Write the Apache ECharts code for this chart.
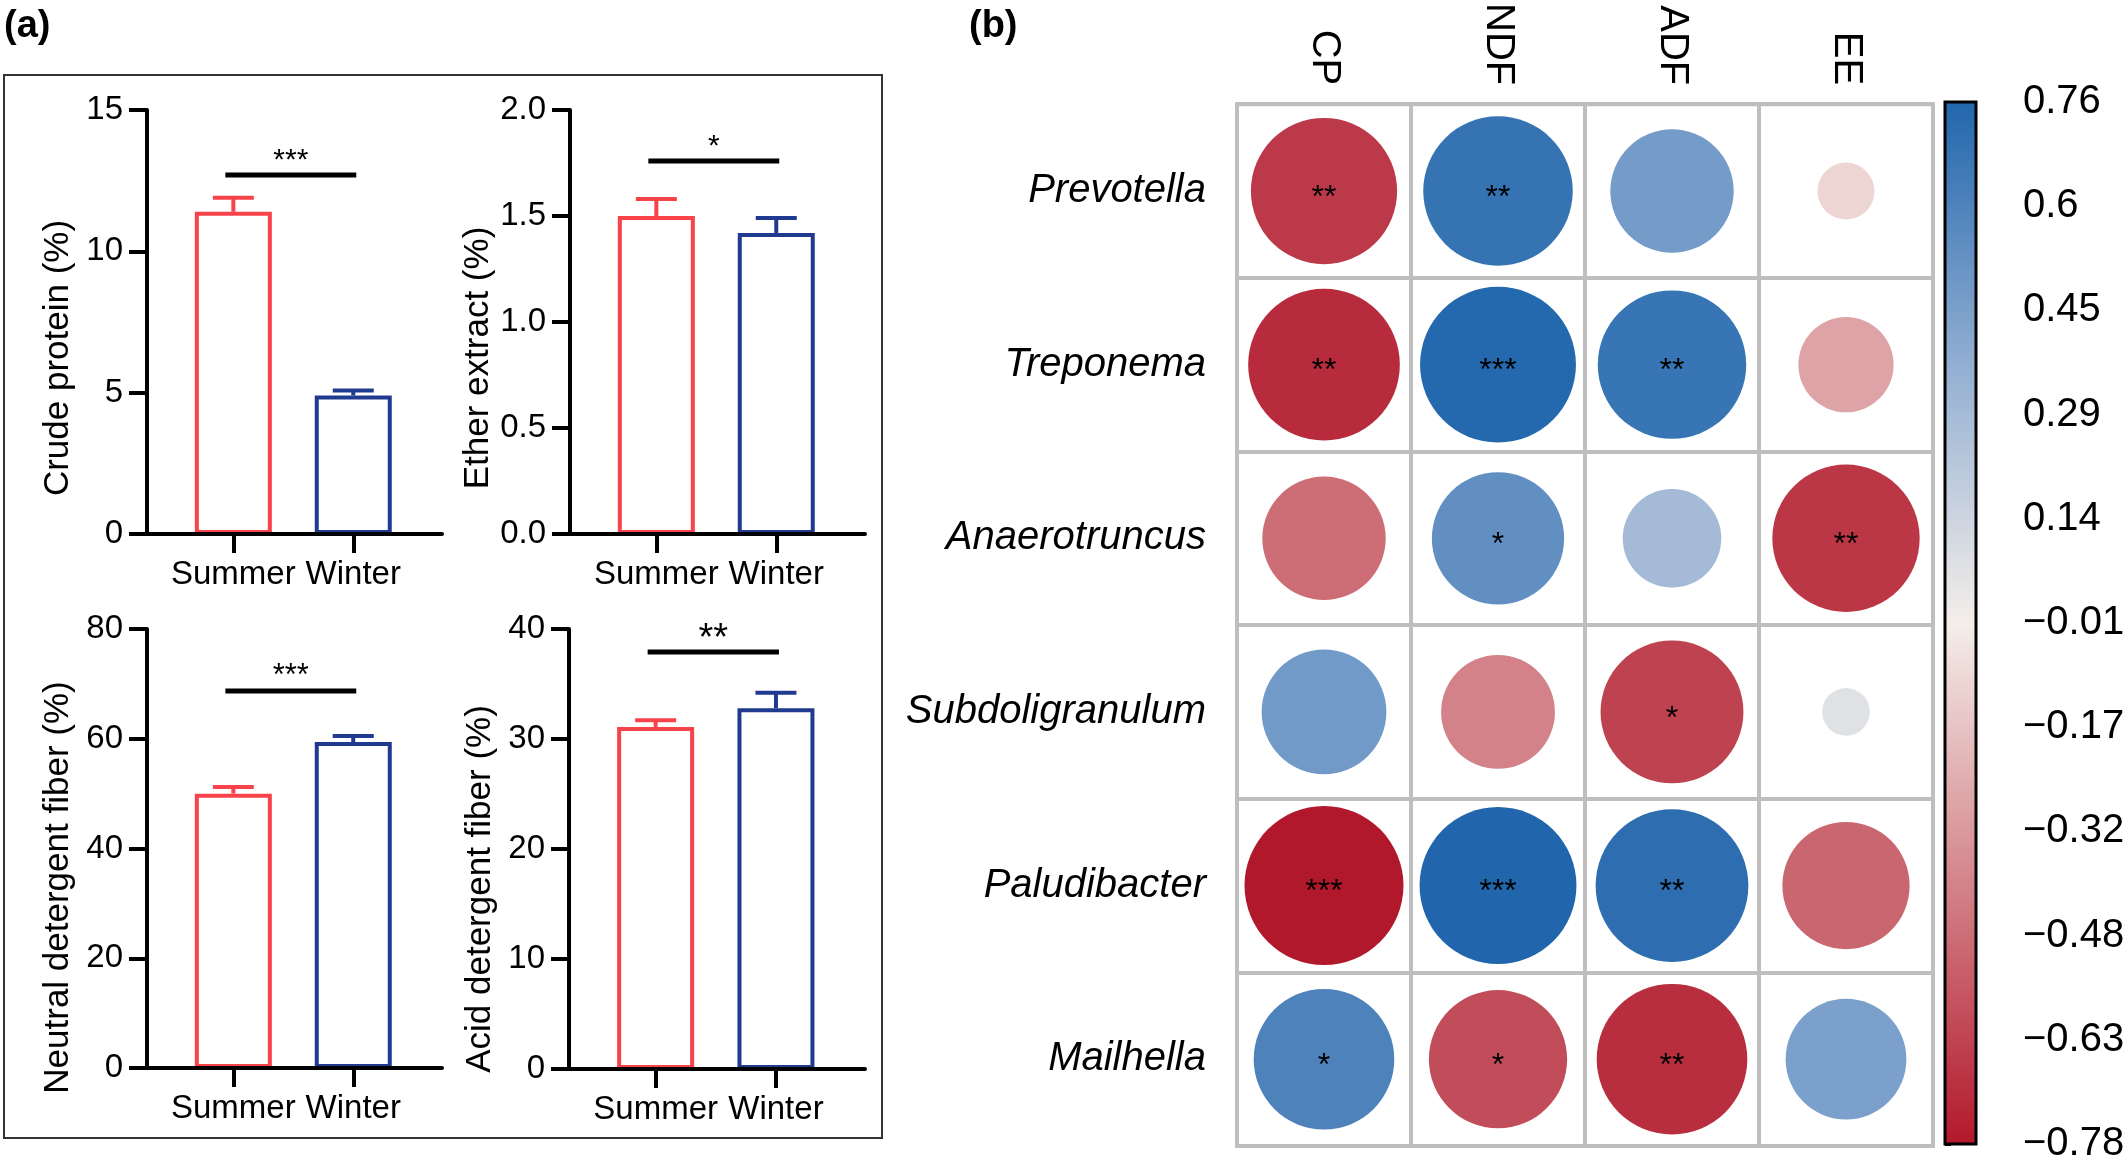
<!DOCTYPE html>
<html>
<head>
<meta charset="utf-8">
<script src="https://cdn.jsdelivr.net/npm/echarts@6/dist/echarts.min.js"></script>
<style>
html,body{margin:0;padding:0;background:#fff;}
#chart{width:2128px;height:1164px;}
</style>
</head>
<body>
<div id="chart"></div>
<script>
// ---------------- data ----------------
const groups = ['Summer', 'Winter'];
const cpMean = [11.4, 4.9];
const cpSem = [0.5, 0.18];
const eeMean = [1.50, 1.42];
const eeSem = [0.08, 0.07];
const ndfMean = [50.0, 59.4];
const ndfSem = [1.2, 1.1];
const adfMean = [31.1, 32.8];
const adfSem = [0.6, 1.4];
const sigLevel = [12.7, 1.76, 68.7, 37.9];
const sigMarks = ['***', '*', '***', '**'];
const yTitles = ['Crude protein (%)', 'Ether extract (%)', 'Neutral detergent fiber (%)', 'Acid detergent fiber (%)'];
const yMaxes = [15, 2, 80, 40];
const ySteps = [5, 0.5, 20, 10];

const taxa = ['Prevotella', 'Treponema', 'Anaerotruncus', 'Subdoligranulum', 'Paludibacter', 'Mailhella'];
const nutrients = ['CP', 'NDF', 'ADF', 'EE'];
const corrR = [
  [-0.66, 0.69, 0.47, -0.10],
  [-0.71, 0.75, 0.68, -0.28],
  [-0.47, 0.54, 0.30, -0.67],
  [0.48, -0.40, -0.63, 0.07],
  [-0.78, 0.76, 0.72, -0.50],
  [0.61, -0.59, -0.70, 0.45]
];
const corrSig = [
  ['**', '**', '', ''],
  ['**', '***', '**', ''],
  ['', '*', '', '**'],
  ['', '', '*', ''],
  ['***', '***', '**', ''],
  ['*', '*', '**', '']
];
const colorbarTicks = ['0.76', '0.6', '0.45', '0.29', '0.14', '\u22120.01', '\u22120.17', '\u22120.32', '\u22120.48', '\u22120.63', '\u22120.78'];
const corrMin = -0.78, corrMax = 0.76;

// ---------------- styles / layout ----------------
const FONT = "'Liberation Sans', Arial, Helvetica, sans-serif";
const barColors = ['#F8434B', '#203A8F'];
const cbColors = ['#B2182B', '#D3838A', '#F4EEE9', '#91AED2', '#2166AC'];
const panels = [
  {left: 147, top: 110, width: 295, height: 424, shift: 72, star: 30},
  {left: 570, top: 110, width: 295, height: 424, shift: 72, star: 30},
  {left: 147, top: 629, width: 295, height: 439, shift: 78, star: 31},
  {left: 569, top: 629, width: 296, height: 440, shift: 80, star: 38}
];
const means = [cpMean, eeMean, ndfMean, adfMean];
const sems = [cpSem, eeSem, ndfSem, adfSem];

const chart = echarts.init(document.getElementById('chart'), null, {renderer: 'canvas'});

const grid = [], xAxis = [], yAxis = [], series = [];

panels.forEach((p, i) => {
  grid.push({left: p.left, top: p.top, width: p.width, height: p.height, containLabel: false});
  xAxis.push({
    type: 'value', gridIndex: i, min: 0.28, max: 2.74, z: 5,
    axisLine: {show: true, lineStyle: {color: '#000', width: 4}},
    axisTick: {show: true, customValues: [1, 2], length: 19, lineStyle: {color: '#000', width: 4}},
    axisLabel: {show: true, customValues: [1, 2], formatter: v => groups[Math.round(v) - 1],
      fontSize: 33, color: '#000', fontFamily: FONT, margin: 24},
    splitLine: {show: false}
  });
  yAxis.push({
    type: 'value', gridIndex: i, min: 0, max: yMaxes[i], interval: ySteps[i], z: 5,
    name: yTitles[i], nameLocation: 'middle', nameRotate: 90, nameGap: 71,
    nameTextStyle: {fontSize: 35, color: '#000', fontFamily: FONT, padding: [0, p.shift, 0, 0]},
    axisLine: {show: true, lineStyle: {color: '#000', width: 4}},
    axisTick: {show: true, length: 18, lineStyle: {color: '#000', width: 4}},
    axisLabel: {fontSize: 33, color: '#000', fontFamily: FONT, margin: 24,
      formatter: v => (ySteps[i] < 1 ? v.toFixed(1) : String(v))},
    splitLine: {show: false}
  });
  series.push({
    type: 'bar', xAxisIndex: i, yAxisIndex: i, barWidth: 77, z: 2, silent: true,
    data: means[i].map((m, j) => ({value: [j + 1, m], itemStyle: {color: '#ffffff', borderColor: barColors[j], borderWidth: 4}}))
  });
  series.push({
    type: 'custom', xAxisIndex: i, yAxisIndex: i, z: 3, silent: true,
    data: means[i].map((m, j) => [j + 1, m, m + sems[i][j]]),
    renderItem: (params, api) => {
      const a = api.coord([api.value(0), api.value(1)]);
      const b = api.coord([api.value(0), api.value(2)]);
      const col = barColors[params.dataIndex];
      return {type: 'group', children: [
        {type: 'line', shape: {x1: a[0], y1: a[1], x2: b[0], y2: b[1]}, style: {stroke: col, lineWidth: 4}},
        {type: 'line', shape: {x1: b[0] - 20.5, y1: b[1], x2: b[0] + 20.5, y2: b[1]}, style: {stroke: col, lineWidth: 4}}
      ]};
    }
  });
  series.push({
    type: 'custom', xAxisIndex: i, yAxisIndex: i, z: 4, silent: true,
    data: [[1, 2, sigLevel[i]]],
    renderItem: (params, api) => {
      const a = api.coord([api.value(0), api.value(2)]);
      const b = api.coord([api.value(1), api.value(2)]);
      const x1 = a[0] - 8, x2 = b[0] + 3;
      return {type: 'group', children: [
        {type: 'line', shape: {x1: x1, y1: a[1], x2: x2, y2: a[1]}, style: {stroke: '#000', lineWidth: 5}},
        {type: 'text', x: (x1 + x2) / 2, y: a[1] - 21 + 0.22 * p.star,
          style: {text: sigMarks[i], fontSize: p.star, fontFamily: FONT, fill: '#000', textAlign: 'center', textVerticalAlign: 'middle'}}
      ]};
    }
  });
});

// correlation grid (index 4)
grid.push({left: 1237, top: 102, width: 696, height: 1044, show: true, borderColor: '#BEBEBE', borderWidth: 4, backgroundColor: 'transparent'});
xAxis.push({
  type: 'category', gridIndex: 4, data: nutrients, position: 'top',
  axisLine: {show: false}, axisTick: {show: false},
  axisLabel: {rotate: 90, fontSize: 40, color: '#000', fontFamily: FONT, margin: 19},
  splitLine: {show: true, lineStyle: {color: '#BEBEBE', width: 4}}
});
yAxis.push({
  type: 'category', gridIndex: 4, data: taxa, inverse: true,
  axisLine: {show: false}, axisTick: {show: false},
  axisLabel: {fontSize: 40, fontStyle: 'italic', color: '#000', fontFamily: FONT, margin: 31},
  splitLine: {show: true, lineStyle: {color: '#BEBEBE', width: 4}}
});
const corrData = [];
corrR.forEach((row, i) => row.forEach((r, j) => corrData.push([j, i, r, corrSig[i][j]])));
const scatterIndex = series.length;
series.push({
  type: 'scatter', xAxisIndex: 4, yAxisIndex: 4, z: 3, silent: true,
  data: corrData,
  symbol: 'circle',
  symbolSize: v => 180 * Math.sqrt(Math.abs(v[2])),
  itemStyle: {opacity: 1},
  label: {show: true, position: 'inside', formatter: p => p.value[3], fontSize: 32, color: '#000', fontFamily: FONT, offset: [0, 7]}
});

// colorbar (index 5)
grid.push({left: 1945, top: 102, width: 31, height: 1044});
xAxis.push({type: 'value', gridIndex: 5, min: 0, max: 1, show: false});
yAxis.push({
  type: 'category', gridIndex: 5, data: colorbarTicks.slice().reverse(), boundaryGap: false, position: 'right',
  axisLine: {show: false},
  axisTick: {show: true, alignWithLabel: true, length: 6, lineStyle: {color: '#000', width: 3}},
  axisLabel: {fontSize: 40, color: '#000', fontFamily: FONT, margin: 47},
  splitLine: {show: false}
});
series.push({
  type: 'custom', xAxisIndex: 5, yAxisIndex: 5, silent: true,
  data: [[0]],
  renderItem: (params, api) => {
    const b = api.coord([0, 0]);
    const t = api.coord([1, colorbarTicks.length - 1]);
    const stops = cbColors.map((c, k) => ({offset: k / (cbColors.length - 1), color: c}));
    return {type: 'rect', shape: {x: b[0], y: t[1], width: t[0] - b[0], height: b[1] - t[1]},
      style: {fill: new echarts.graphic.LinearGradient(0, 1, 0, 0, stops), stroke: '#000', lineWidth: 3}};
  }
});

chart.setOption({
  animation: false,
  backgroundColor: '#ffffff',
  textStyle: {fontFamily: FONT},
  title: [
    {text: '(a)', left: 4, top: 8, padding: 0, textStyle: {fontSize: 38, fontWeight: 'bold', color: '#000', fontFamily: FONT}},
    {text: '(b)', left: 969, top: 8, padding: 0, textStyle: {fontSize: 38, fontWeight: 'bold', color: '#000', fontFamily: FONT}}
  ],
  graphic: [
    {type: 'rect', shape: {x: 4, y: 75, width: 878, height: 1063}, style: {fill: 'none', stroke: '#333', lineWidth: 2}, z: 0}
  ],
  visualMap: {type: 'continuous', show: false, seriesIndex: scatterIndex, dimension: 2, min: corrMin, max: corrMax, inRange: {color: cbColors}},
  grid: grid, xAxis: xAxis, yAxis: yAxis, series: series
});
</script>
</body>
</html>
